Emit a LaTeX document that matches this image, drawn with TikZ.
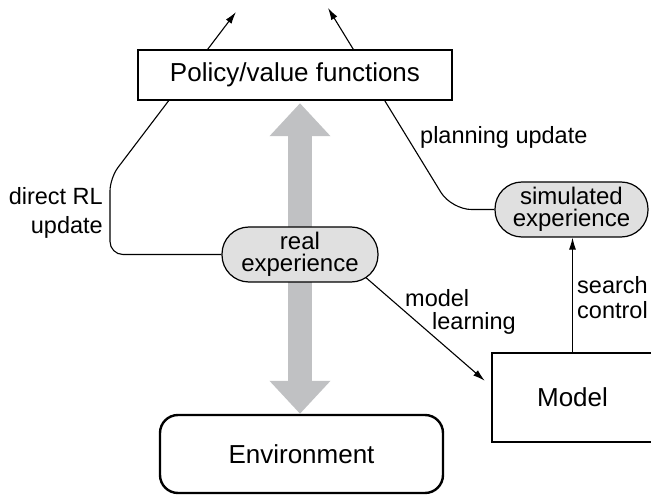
\documentclass[tikz,border=0pt]{standalone}
\usepackage{fontspec}
\setmainfont{Liberation Sans}
\usetikzlibrary{positioning,arrows.meta,calc,backgrounds}
\definecolor{grispill}{HTML}{E0E0E0}
\definecolor{grisflecha}{HTML}{C0C1C3}

\begin{document}
\begin{tikzpicture}[x=1pt, y=-1pt,
    boxnode/.style={draw, line width=2.4pt, fill=white, font=\fontsize{26}{30}\selectfont},
    pill/.style={draw, line width=1.2pt, fill=grispill, rounded corners=27pt, align=center,
                 inner sep=0pt, minimum height=55pt, font=\fontsize{24}{22}\selectfont},
    lbl/.style={inner sep=0pt, font=\fontsize{23.5}{25}\selectfont},
    conn/.style={line width=1.1pt, -{Latex[length=12pt,width=7pt]}}]
  \useasboundingbox (0,0) rectangle (651,497);

  % boxes
  \node[boxnode, minimum width=314pt, minimum height=50pt] (policy) at (295,75) {Policy/value functions};
  \node[pill, minimum width=156pt] (real) at (300,254.5) {real\\experience};
  \node[pill, minimum width=153pt] (sim) at (571.5,209.5) {simulated\\experience};
  \node[boxnode, minimum width=161pt, minimum height=89pt] (model) at (572.5,397.5) {Model};
  \node[boxnode, rounded corners=18pt, minimum width=283pt, minimum height=78pt] (env) at (301.5,454) {Environment};

  \coordinate (rlBend) at (110,178);
  \coordinate (rlTip) at (236,12);
  \coordinate (puTip) at (328,8);

  % connectors, behind the boxes
  \begin{scope}[on background layer]
    \draw[grisflecha, line width=24pt, shorten <=2pt,
          {Triangle[length=33pt,width=59pt]}-{Triangle[length=33pt,width=59pt]}]
      (real.center |- policy.south) -- (real.center |- env.north);
    \draw[conn] (real.west) [rounded corners=13pt] -| (rlBend) [rounded corners=5pt] -- (rlTip);
    \draw[conn, rounded corners=20pt] (sim.west) -- ++(-43,0) -- (puTip);
    \draw[conn, shorten >=8pt] ($(real.center)!.5!(real.east)$) -- (model.172);
    \draw[conn] (model.north) -- (model.north |- sim.south);
  \end{scope}

  % labels
  \node[lbl, align=right, anchor=north east, font=\fontsize{23.5}{29}\selectfont] (rlLabel) at (103,187) {direct RL\\update};
  \node[lbl, anchor=base west] (puLabel) at (420,144) {planning update};
  \node[lbl, align=left, anchor=north west, font=\fontsize{23.5}{23}\selectfont] (mlLabel) at (405,289) {model\\\hspace*{27pt}learning};
  \node[lbl, align=left, anchor=north west] (scLabel) at (577,276) {search\\control};
\end{tikzpicture}
\end{document}
